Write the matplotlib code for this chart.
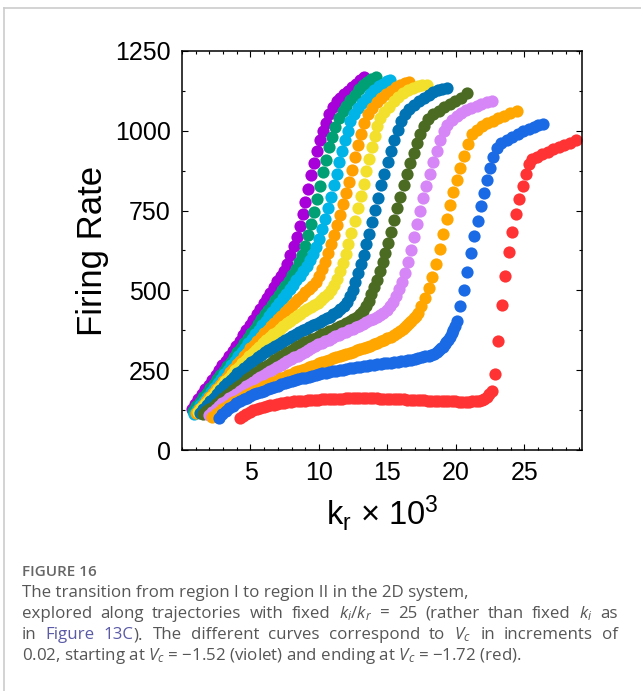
import matplotlib
matplotlib.use('Agg')
import matplotlib.pyplot as plt
from matplotlib.ticker import MultipleLocator
from matplotlib.lines import Line2D

plt.rcParams['font.family'] = ['Liberation Sans', 'DejaVu Sans']
plt.rcParams['mathtext.fontset'] = 'custom'
plt.rcParams['mathtext.rm'] = 'Open Sans'
plt.rcParams['mathtext.it'] = 'Open Sans:italic'

# firing rate vs k_r (x 10^3), one curve per Vc from -1.52 (violet) to -1.72 (red)
violet = [(0.7, 130), (0.95, 145), (1.2, 160), (1.45, 175), (1.7, 190), (1.95, 205), (2.2, 220), (2.45, 235),
          (2.7, 250), (2.95, 265), (3.2, 280), (3.45, 295), (3.7, 311), (3.95, 327), (4.2, 343), (4.45, 359),
          (4.7, 375), (4.95, 392), (5.2, 408), (5.45, 425), (5.7, 442), (5.95, 459), (6.2, 476), (6.45, 493),
          (6.7, 511), (6.95, 529), (7.2, 546), (7.42, 562), (7.65, 582), (7.9, 610), (8.15, 638), (8.38, 668),
          (8.6, 702), (8.8, 738), (9.0, 776), (9.22, 818), (9.44, 860), (9.66, 900), (9.87, 938), (10.07, 970),
          (10.28, 998), (10.5, 1024), (10.73, 1052), (11.0, 1074), (11.28, 1092), (11.56, 1104), (11.84, 1114),
          (12.12, 1125), (12.4, 1137), (12.68, 1148), (12.96, 1159), (13.28, 1167)]
green = [(0.8, 122), (1.05, 137), (1.3, 151), (1.55, 165), (1.8, 179), (2.05, 193), (2.3, 207), (2.55, 221),
         (2.8, 235), (3.05, 249), (3.3, 263), (3.55, 277), (3.8, 291), (4.05, 306), (4.3, 320), (4.55, 335),
         (4.8, 350), (5.05, 365), (5.3, 380), (5.55, 395), (5.8, 410), (6.05, 425), (6.3, 440), (6.55, 455),
         (6.8, 470), (7.05, 485), (7.3, 500), (7.55, 515), (7.8, 531), (8.05, 548), (8.3, 567), (8.55, 588),
         (8.78, 610), (9.0, 638), (9.22, 672), (9.44, 708), (9.66, 746), (9.87, 787), (10.08, 828), (10.3, 870),
         (10.52, 910), (10.75, 948), (10.98, 982), (11.2, 1012), (11.44, 1040), (11.72, 1061), (12.0, 1079),
         (12.3, 1096), (12.6, 1113), (12.9, 1130), (13.2, 1144), (13.5, 1154), (13.8, 1162), (14.13, 1169)]
sky = [(0.85, 112), (1.1, 126), (1.35, 140), (1.6, 153), (1.85, 167), (2.1, 181), (2.35, 195), (2.6, 209),
       (2.85, 223), (3.1, 237), (3.35, 251), (3.6, 265), (3.85, 279), (4.1, 293), (4.35, 307), (4.6, 321),
       (4.85, 335), (5.1, 349), (5.35, 363), (5.6, 377), (5.85, 391), (6.1, 405), (6.35, 419), (6.6, 433),
       (6.85, 447), (7.1, 461), (7.35, 475), (7.6, 490), (7.85, 504), (8.1, 518), (8.35, 532), (8.6, 546),
       (8.85, 561), (9.1, 577), (9.35, 595), (9.58, 614), (9.8, 636), (10.02, 662), (10.24, 692), (10.46, 724),
       (10.67, 758), (10.88, 794), (11.08, 830), (11.28, 866), (11.49, 902), (11.7, 937), (11.9, 970),
       (12.1, 1000), (12.3, 1030), (12.55, 1052), (12.85, 1070), (13.15, 1086), (13.45, 1101), (13.75, 1115),
       (14.05, 1128), (14.35, 1139), (14.65, 1148), (14.95, 1155), (15.2, 1159)]
orange = [(1.0, 116), (1.25, 128), (1.5, 140), (1.75, 153), (2.0, 165), (2.25, 178), (2.5, 191), (2.75, 204),
          (3.0, 217), (3.25, 230), (3.5, 243), (3.75, 255), (4.0, 268), (4.25, 280), (4.5, 293), (4.75, 305),
          (5.0, 318), (5.25, 330), (5.5, 342), (5.75, 354), (6.0, 365), (6.25, 377), (6.5, 388), (6.75, 399),
          (7.0, 410), (7.25, 421), (7.5, 432), (7.75, 443), (8.0, 453), (8.25, 464), (8.5, 474), (8.75, 484),
          (9.0, 494), (9.25, 504), (9.5, 515), (9.75, 527), (10.0, 545), (10.22, 566), (10.44, 590), (10.65, 616),
          (10.86, 644), (11.07, 674), (11.28, 705), (11.5, 737), (11.72, 770), (11.95, 804), (12.17, 840),
          (12.38, 878), (12.6, 917), (12.82, 955), (13.05, 990), (13.3, 1024), (13.55, 1052), (13.85, 1072),
          (14.2, 1090), (14.55, 1104), (14.9, 1116), (15.25, 1126), (15.6, 1136), (15.95, 1144), (16.3, 1150),
          (16.6, 1154)]
yellow = [(1.15, 118), (1.4, 131), (1.65, 143), (1.9, 155), (2.15, 167), (2.4, 179), (2.65, 191), (2.9, 203),
          (3.15, 215), (3.4, 227), (3.65, 239), (3.9, 250), (4.15, 261), (4.4, 272), (4.65, 283), (4.9, 294),
          (5.15, 304), (5.4, 314), (5.65, 324), (5.9, 334), (6.15, 344), (6.4, 353), (6.65, 362), (6.9, 371),
          (7.15, 380), (7.4, 389), (7.65, 397), (7.9, 405), (8.15, 413), (8.4, 420), (8.65, 427), (8.9, 434),
          (9.15, 441), (9.4, 448), (9.65, 455), (9.9, 462), (10.15, 470), (10.4, 478), (10.65, 488), (10.9, 500),
          (11.12, 516), (11.34, 536), (11.55, 560), (11.75, 587), (11.95, 614), (12.15, 645), (12.37, 680),
          (12.6, 718), (12.83, 757), (13.05, 795), (13.26, 834), (13.46, 873), (13.66, 912), (13.86, 950),
          (14.06, 985), (14.25, 1016), (14.45, 1040), (14.75, 1058), (15.1, 1076), (15.45, 1092), (15.8, 1106),
          (16.15, 1118), (16.5, 1128), (16.85, 1135), (17.2, 1140), (17.55, 1142), (17.87, 1143)]
blue = [(1.3, 116), (1.55, 128), (1.8, 140), (2.05, 152), (2.3, 164), (2.55, 176), (2.8, 188), (3.05, 199),
        (3.3, 210), (3.55, 220), (3.8, 230), (4.05, 240), (4.3, 249), (4.55, 258), (4.8, 267), (5.05, 275),
        (5.3, 283), (5.55, 291), (5.8, 299), (6.05, 306), (6.3, 313), (6.55, 320), (6.8, 327), (7.05, 333),
        (7.3, 339), (7.55, 346), (7.8, 352), (8.05, 358), (8.3, 364), (8.55, 369), (8.8, 375), (9.05, 380),
        (9.3, 385), (9.55, 391), (9.8, 396), (10.05, 401), (10.3, 406), (10.55, 412), (10.8, 418), (11.05, 425),
        (11.3, 432), (11.55, 441), (11.8, 451), (12.02, 464), (12.24, 481), (12.45, 502), (12.65, 527),
        (12.85, 554), (13.05, 582), (13.25, 612), (13.46, 644), (13.67, 678), (13.88, 714), (14.1, 751),
        (14.32, 790), (14.55, 829), (14.78, 866), (15.02, 902), (15.26, 938), (15.5, 972), (15.75, 1003),
        (16.0, 1030), (16.28, 1052), (16.6, 1067), (16.95, 1080), (17.3, 1092), (17.65, 1103), (18.0, 1113),
        (18.35, 1121), (18.7, 1127), (19.0, 1131), (19.33, 1133)]
olive = [(1.5, 114), (1.75, 121), (2.0, 128), (2.25, 136), (2.5, 144), (2.75, 153), (3.0, 162), (3.25, 171),
         (3.5, 180), (3.75, 188), (4.0, 197), (4.25, 205), (4.5, 214), (4.75, 222), (5.0, 230), (5.25, 238),
         (5.5, 245), (5.75, 253), (6.0, 260), (6.25, 267), (6.5, 274), (6.75, 281), (7.0, 288), (7.25, 295),
         (7.5, 302), (7.75, 308), (8.0, 314), (8.25, 320), (8.5, 326), (8.75, 331), (9.0, 337), (9.25, 342),
         (9.5, 347), (9.75, 352), (10.0, 357), (10.25, 362), (10.5, 367), (10.75, 372), (11.0, 377), (11.25, 382),
         (11.5, 387), (11.75, 393), (12.0, 398), (12.25, 404), (12.5, 410), (12.75, 417), (13.0, 425),
         (13.22, 435), (13.44, 450), (13.64, 468), (13.83, 488), (14.02, 510), (14.22, 534), (14.43, 560),
         (14.64, 588), (14.85, 618), (15.06, 650), (15.28, 684), (15.5, 720), (15.72, 757), (15.95, 794),
         (16.18, 830), (16.42, 866), (16.66, 900), (16.9, 932), (17.14, 962), (17.4, 990), (17.68, 1015),
         (17.98, 1036), (18.35, 1052), (18.75, 1063), (19.15, 1074), (19.55, 1083), (19.95, 1092), (20.4, 1103),
         (20.84, 1117)]
lilac = [(1.95, 110), (2.2, 120), (2.45, 129), (2.7, 138), (2.95, 146), (3.2, 154), (3.45, 162), (3.7, 170),
         (3.95, 177), (4.2, 185), (4.45, 192), (4.7, 200), (4.95, 207), (5.2, 214), (5.45, 221), (5.7, 228),
         (5.95, 235), (6.2, 241), (6.45, 248), (6.7, 254), (6.95, 260), (7.2, 266), (7.45, 272), (7.7, 278),
         (7.95, 284), (8.2, 290), (8.45, 296), (8.7, 302), (8.95, 308), (9.2, 314), (9.45, 320), (9.7, 326),
         (9.95, 331), (10.2, 336), (10.45, 341), (10.7, 346), (10.95, 351), (11.2, 356), (11.45, 360),
         (11.7, 365), (11.95, 370), (12.2, 375), (12.45, 380), (12.7, 385), (12.95, 390), (13.2, 396),
         (13.45, 401), (13.7, 406), (13.95, 411), (14.2, 417), (14.45, 423), (14.7, 430), (14.95, 439),
         (15.2, 450), (15.43, 465), (15.65, 483), (15.85, 503), (16.05, 527), (16.26, 556), (16.48, 590),
         (16.7, 628), (16.92, 668), (17.14, 708), (17.37, 748), (17.6, 788), (17.84, 828), (18.08, 866),
         (18.33, 903), (18.58, 938), (18.84, 970), (19.1, 998), (19.35, 1018), (19.7, 1034), (20.05, 1046),
         (20.4, 1056), (20.75, 1064), (21.1, 1071), (21.5, 1078), (21.85, 1084), (22.25, 1089), (22.6, 1094)]
amber = [(2.2, 104), (2.45, 112), (2.7, 120), (2.95, 128), (3.2, 135), (3.45, 142), (3.7, 149), (3.95, 155),
         (4.2, 161), (4.45, 167), (4.7, 173), (4.95, 178), (5.25, 184), (5.5, 189), (5.75, 194), (6.0, 199),
         (6.25, 204), (6.5, 209), (6.75, 214), (7.0, 219), (7.25, 224), (7.5, 229), (7.75, 234), (8.0, 238),
         (8.25, 243), (8.5, 247), (8.75, 251), (9.0, 255), (9.25, 259), (9.5, 263), (9.75, 267), (10.0, 271),
         (10.25, 275), (10.5, 279), (10.75, 283), (11.0, 287), (11.25, 291), (11.5, 294), (11.75, 298),
         (12.0, 301), (12.25, 305), (12.5, 308), (12.75, 312), (13.0, 316), (13.25, 320), (13.5, 323),
         (13.75, 327), (14.0, 331), (14.25, 335), (14.5, 340), (14.75, 345), (15.0, 350), (15.25, 355),
         (15.5, 361), (15.7, 366), (15.9, 372), (16.1, 378), (16.25, 384), (16.45, 391), (16.6, 398),
         (16.75, 405), (16.9, 413), (17.05, 421), (17.2, 430), (17.48, 452), (17.75, 477), (18.02, 506),
         (18.28, 542), (18.54, 584), (18.8, 630), (19.06, 677), (19.32, 724), (19.56, 767), (19.8, 808),
         (20.05, 847), (20.32, 885), (20.6, 922), (20.88, 958), (21.15, 990), (21.5, 1004), (21.9, 1015),
         (22.3, 1024), (22.7, 1032), (23.1, 1040), (23.5, 1047), (23.95, 1055), (24.43, 1063)]
azure = [(2.7, 101), (2.95, 112), (3.2, 122), (3.45, 131), (3.7, 139), (3.95, 146), (4.2, 152), (4.5, 159),
         (4.75, 164), (5.0, 169), (5.25, 174), (5.5, 178), (5.75, 182), (6.0, 186), (6.25, 190), (6.5, 194),
         (6.75, 198), (7.0, 202), (7.25, 206), (7.5, 209), (7.75, 212), (8.0, 215), (8.25, 218), (8.5, 221),
         (8.75, 224), (9.0, 227), (9.25, 230), (9.5, 233), (9.75, 236), (10.0, 238), (10.25, 240), (10.5, 242),
         (10.75, 244), (11.0, 246), (11.25, 248), (11.5, 250), (11.75, 252), (12.0, 254), (12.25, 256),
         (12.5, 257), (12.75, 259), (13.0, 260), (13.25, 262), (13.5, 263), (13.75, 265), (14.0, 266),
         (14.25, 268), (14.5, 269), (14.75, 271), (15.0, 272), (15.25, 274), (15.5, 275), (15.75, 277),
         (16.0, 278), (16.25, 280), (16.5, 281), (16.75, 283), (17.0, 285), (17.25, 288), (17.5, 290),
         (17.75, 293), (18.0, 295), (18.2, 298), (18.4, 302), (18.6, 307), (18.75, 312), (18.9, 318),
         (19.05, 324), (19.2, 331), (19.3, 338), (19.45, 346), (19.55, 355), (19.7, 365), (19.8, 376),
         (19.92, 389), (20.05, 403), (20.33, 450), (20.59, 502), (20.83, 559), (21.08, 616), (21.35, 669),
         (21.58, 718), (21.85, 764), (22.08, 806), (22.3, 845), (22.5, 882), (22.73, 917), (23.0, 945),
         (23.3, 961), (23.7, 972), (24.1, 982), (24.5, 991), (24.9, 1000), (25.3, 1007), (25.7, 1013),
         (26.0, 1017), (26.37, 1021)]
red = [(4.2, 101), (4.45, 108), (4.7, 114), (4.95, 120), (5.2, 124), (5.45, 128), (5.7, 132), (5.95, 135),
       (6.2, 138), (6.45, 140), (6.7, 142), (6.95, 144), (7.2, 146), (7.45, 148), (7.7, 150), (7.95, 151),
       (8.2, 152), (8.45, 153), (8.7, 154), (8.95, 155), (9.2, 156), (9.45, 157), (9.7, 158), (9.95, 158),
       (10.2, 159), (10.45, 159), (10.7, 160), (10.95, 160), (11.2, 161), (11.45, 161), (11.7, 161),
       (11.95, 162), (12.2, 162), (12.45, 162), (12.7, 162), (12.95, 162), (13.2, 162), (13.45, 162),
       (13.7, 162), (13.95, 162), (14.2, 162), (14.45, 161), (14.7, 161), (14.95, 161), (15.2, 160),
       (15.45, 160), (15.7, 160), (15.95, 159), (16.2, 159), (16.45, 158), (16.7, 158), (16.95, 157),
       (17.2, 157), (17.45, 156), (17.7, 156), (17.95, 155), (18.2, 155), (18.45, 154), (18.7, 154),
       (18.95, 153), (19.2, 153), (19.45, 152), (19.7, 152), (19.95, 152), (20.2, 151), (20.45, 151),
       (20.7, 151), (20.95, 151), (21.2, 152), (21.45, 153), (21.7, 155), (21.9, 157), (22.08, 160),
       (22.25, 165), (22.42, 174), (22.6, 186), (22.85, 237), (23.1, 342), (23.35, 453), (23.6, 544),
       (23.87, 619), (24.1, 682), (24.36, 738), (24.6, 786), (24.87, 827), (25.1, 864), (25.3, 896),
       (25.55, 912), (25.9, 919), (26.3, 927), (26.7, 935), (27.1, 942), (27.5, 949), (27.9, 956),
       (28.3, 963), (28.75, 971)]

curves = [(violet, '#a800d8'), (green, '#00a074'), (sky, '#00b4e8'), (orange, '#ffa000'),
          (yellow, '#f3e02c'), (blue, '#0073b4'), (olive, '#4b6b23'), (lilac, '#d686f6'),
          (amber, '#ffa600'), (azure, '#1a6ae6'), (red, '#ff3333')]

W, H = 641, 691
fig = plt.figure(figsize=(W / 100, H / 100), dpi=100)
ax = fig.add_axes([182 / W, 1 - 450 / H, 400 / W, 399 / H])

for pts, c in curves:
    xs, ys = zip(*pts)
    ax.plot(xs, ys, 'o', ms=8.8, color=c, mec='none', clip_on=False)

ax.set_xlim(0, 29.2)
ax.set_ylim(0, 1250)
ax.set_xticks([5, 10, 15, 20, 25])
ax.set_yticks([0, 250, 500, 750, 1000, 1250])
ax.xaxis.set_minor_locator(MultipleLocator(1))
ax.yaxis.set_minor_locator(MultipleLocator(125))
ax.tick_params(which='both', direction='in', top=True, right=True, width=0.8, labelsize=18, pad=8)
ax.tick_params(which='major', length=4.5)
ax.tick_params(which='minor', length=2.5)
for s in ax.spines.values():
    s.set_linewidth(1.1)

ax.set_ylabel('Firing Rate', fontsize=25, labelpad=4)
ax.set_xlabel(r'k$_\mathregular{r}$ × 10$^\mathregular{3}$', fontsize=23.5, labelpad=6)

# page frame
fig.add_artist(Line2D([4 / W, 1], [1 - 8 / H, 1 - 8 / H], color='#cccccc', lw=1.2))
fig.add_artist(Line2D([4 / W, 4 / W], [0, 1 - 8 / H], color='#cccccc', lw=1.2))

# caption
gray, link = '#565656', '#5a5aa6'
cap = dict(fontsize=12.2, family=['Open Sans', 'DejaVu Sans'], va='baseline')
left, right = 22, 618
renderer = fig.canvas.get_renderer()


def justified(pieces, ybase):
    # spread words so the line runs from left to right margin
    arts = [(fig.text(0, 1 - ybase / H, s, color=c, **cap), glue) for s, c, glue in pieces]
    widths = [a.get_window_extent(renderer).width for a, g in arts]
    n_gaps = sum(1 for a, g in arts[1:] if not g)
    gap = (right - left - sum(widths)) / n_gaps
    x = left
    for i, ((a, g), w) in enumerate(zip(arts, widths)):
        if i and not g:
            x += gap
        a.set_x(x / W)
        x += w


fig.text(left / W, 1 - 576 / H, 'FIGURE 16', fontsize=11, weight='semibold', color='#666666',
         family=['Open Sans', 'DejaVu Sans'], va='baseline')
fig.text(left / W, 1 - 597 / H, 'The transition from region I to region II in the 2D system,', color=gray, **cap)
line2 = r'explored along trajectories with fixed $k_i/k_r$ = 25 (rather than fixed $k_i$ as'
justified([(w, gray, False) for w in line2.split(' ')], 618)
line3 = [('in', gray, False), ('Figure', link, False), ('13C', link, False), (').', gray, True)]
line3 += [(w, gray, False) for w in r'The different curves correspond to $V_c$ in increments of'.split(' ')]
justified(line3, 639)
fig.text(left / W, 1 - 660 / H,
         r'0.02, starting at $V_c$ = −1.52 (violet) and ending at $V_c$ = −1.72 (red).', color=gray, **cap)

fig.savefig('out.png', dpi=100)
